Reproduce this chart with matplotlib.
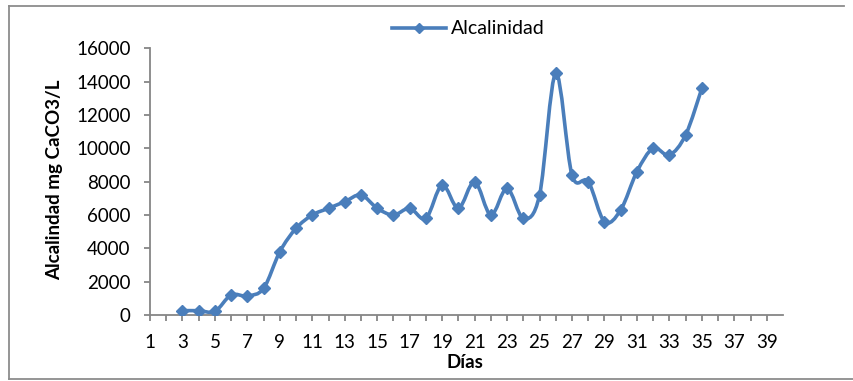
import numpy as np
import matplotlib
matplotlib.use("Agg")
import matplotlib.pyplot as plt
from matplotlib.path import Path
from matplotlib.patches import PathPatch
from matplotlib.lines import Line2D

plt.rcParams['font.family'] = ['Lato', 'DejaVu Sans']

# Alkalinity measurements per day
dias = [3, 4, 5, 6, 7, 8, 9, 10, 11, 12, 13, 14, 15, 16, 17, 18, 19, 20, 21,
        22, 23, 24, 25, 26, 27, 28, 29, 30, 31, 32, 33, 34, 35]
alcalinidad = [260, 260, 220, 1200, 1140, 1600, 3800, 5200, 6000, 6400, 6800,
               7200, 6400, 6000, 6400, 5800, 7800, 6400, 8000, 6000, 7600, 5800,
               7200, 14500, 8400, 8000, 5600, 6300, 8600, 10000, 9600, 10800,
               13600]
x_ticks = list(range(1, 40))
x_labels = [str(d) if d % 2 == 1 else "" for d in x_ticks]
y_ticks = list(range(0, 16001, 2000))

W, H, DPI = 854, 381, 100
fig = plt.figure(figsize=(W / DPI, H / DPI), dpi=DPI)
fig.patch.set_facecolor("white")

ax = fig.add_axes([150 / W, 1 - 315 / H, (783 - 150) / W, (315 - 48.3) / H])

blue = "#4A7EBB"
axis_gray = "#868686"

# Smoothed line: cubic Bezier segments with Catmull-Rom control points
x = np.asarray(dias, dtype=float)
y = np.asarray(alcalinidad, dtype=float)
pts = np.column_stack([x, y])
ext = np.vstack([pts[0], pts, pts[-1]])
verts = [tuple(pts[0])]
codes = [Path.MOVETO]
for i in range(len(pts) - 1):
    p0, p1, p2, p3 = ext[i], ext[i + 1], ext[i + 2], ext[i + 3]
    c1 = p1 + (p2 - p0) / 6.0
    c2 = p2 - (p3 - p1) / 6.0
    verts += [tuple(c1), tuple(c2), tuple(p2)]
    codes += [Path.CURVE4] * 3
ax.add_patch(PathPatch(Path(verts, codes), facecolor="none", edgecolor=blue,
                       linewidth=2.6, capstyle="round", joinstyle="round",
                       zorder=2))
ax.plot(dias, alcalinidad, linestyle="none", marker="D", markersize=6.5,
        color=blue, markeredgecolor=blue, zorder=3)

ax.set_xlim(1, 40)
ax.set_ylim(0, 16000)
ax.set_xticks(x_ticks)
ax.set_xticklabels(x_labels)
ax.set_yticks(y_ticks)
ax.set_yticklabels([str(v) for v in y_ticks])

for s in ("top", "right"):
    ax.spines[s].set_visible(False)
for s in ("left", "bottom"):
    ax.spines[s].set_color(axis_gray)
    ax.spines[s].set_linewidth(1.3)

ax.tick_params(axis="both", direction="out", length=4, width=1.3,
               color=axis_gray, labelsize=13.5, labelcolor="black")
ax.tick_params(axis="y", pad=10)
ax.tick_params(axis="x", pad=10)

ax.set_xlabel("Días", fontsize=13.5, fontweight="bold", va="center")
ax.xaxis.set_label_coords((465 - 150) / 633, (315 - 362) / 266.7)
ax.set_ylabel("Alcalindad mg CaCO3/L", fontsize=13.5, fontweight="bold",
              va="center")
ax.yaxis.set_label_coords((55 - 150) / 633, (315 - 180) / 266.7)

handle = Line2D([], [], color=blue, linewidth=2.6, marker="D", markersize=5.5)
fig.legend([handle], ["Alcalinidad"], loc="center left",
           bbox_to_anchor=(392 / W, 1 - 29 / H), frameon=False, fontsize=14,
           borderpad=0, borderaxespad=0, handlelength=2.8, handletextpad=0.25)

# Outer chart border
bc = "#8C8C8C"
fig.add_artist(Line2D([9 / W, 844 / W], [1 - 5.5 / H, 1 - 5.5 / H],
                      color=bc, linewidth=1.3, transform=fig.transFigure))
fig.add_artist(Line2D([9 / W, 9 / W], [1 - 5.5 / H, 1 - 379 / H],
                      color=bc, linewidth=1.3, transform=fig.transFigure))
fig.add_artist(Line2D([9 / W, 1.0], [1 - 379 / H, 1 - 379 / H],
                      color=bc, linewidth=1.3, transform=fig.transFigure))

fig.savefig("out.png", dpi=DPI, facecolor="white")
